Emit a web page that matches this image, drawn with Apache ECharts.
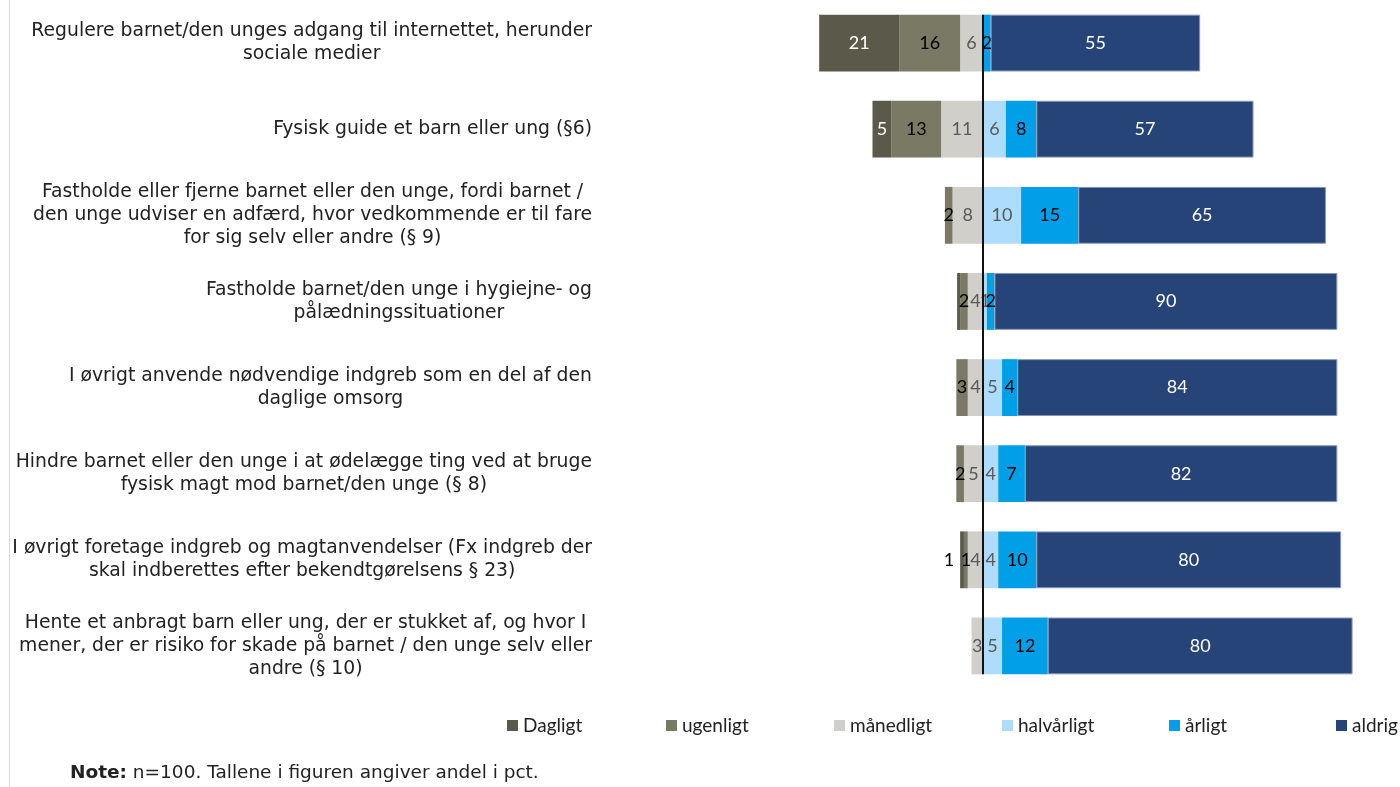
<!DOCTYPE html>
<html>
<head>
<meta charset="utf-8">
<title>Magtanvendelse</title>
<script src="https://cdn.jsdelivr.net/npm/echarts@6.0.0/dist/echarts.min.js"></script>
<style>
  html, body { margin: 0; padding: 0; background: #fff; }
  #chart { width: 1400px; height: 787px; }
</style>
</head>
<body>
<div id="chart"></div>
<script>
  // kategorier (linjeskift som i figuren)
  var categories = [
    'Regulere barnet/den unges adgang til internettet, herunder\nsociale medier',
    'Fysisk guide et barn eller ung (§6)',
    'Fastholde eller fjerne barnet eller den unge, fordi barnet /\nden unge udviser en adfærd, hvor vedkommende er til fare\nfor sig selv eller andre (§ 9)',
    'Fastholde barnet/den unge i hygiejne- og\npålædningssituationer',
    'I øvrigt anvende nødvendige indgreb som en del af den\ndaglige omsorg',
    'Hindre barnet eller den unge i at ødelægge ting ved at bruge\nfysisk magt mod barnet/den unge (§ 8)',
    'I øvrigt foretage indgreb og magtanvendelser (Fx indgreb der\nskal indberettes efter bekendtgørelsens § 23)',
    'Hente et anbragt barn eller ung, der er stukket af, og hvor I\nmener, der er risiko for skade på barnet / den unge selv eller\nandre (§ 10)'
  ]

  // andel i pct.
  var dagligt = [21, 5, 0, 0.8, 0, 0, 1, 0]
  var ugenligt = [16, 13, 2, 2, 3, 2, 1, 0]
  var maanedligt = [6, 11, 8, 4, 4, 5, 4, 3]
  var halvaarligt = [0, 6, 10, 1, 5, 4, 4, 5]
  var aarligt = [2, 8, 15, 2, 4, 7, 10, 12]
  var aldrig = [55, 57, 65, 90, 84, 82, 80, 80]

  var legendNames = ['Dagligt', 'ugenligt', 'månedligt', 'halvårligt', 'årligt', 'aldrig']
  var legendLeft = [502, 661, 829, 997, 1164, 1331]

  var chart = echarts.init(document.getElementById('chart'))

  function labelText(p) {
    var v = Math.abs(p.value)
    if (v < 1) return ''
    return Math.round(v)
  }

  // venstre side (negativ) stables fra midten og ud
  function makeBar(name, values, color, labelColor, negative, border) {
    return {
      name: name,
      type: 'bar',
      stack: 'total',
      barWidth: '66%',
      itemStyle: border ? { color: color, borderColor: border, borderWidth: 1 } : { color: color },
      label: {
        show: true,
        color: labelColor,
        fontFamily: 'Lato',
        fontSize: 18,
        formatter: labelText
      },
      data: values.map(function (v) {
        var item = { value: negative ? -v : v }
        // smal bjælke: label udenfor
        if (name === 'Dagligt' && v >= 1 && v < 2) {
          item.label = { position: 'left', color: '#000', distance: 6 }
        }
        return item
      })
    }
  }

  var series = [
    makeBar('månedligt', maanedligt, '#d0cfc9', '#595959', true),
    makeBar('ugenligt', ugenligt, '#7a7a64', '#000', true),
    makeBar('Dagligt', dagligt, '#5b5a4a', '#fff', true),
    makeBar('halvårligt', halvaarligt, '#addcfc', '#595959', false),
    makeBar('årligt', aarligt, '#009fe8', '#000', false),
    makeBar('aldrig', aldrig, '#264478', '#fff', false, '#8597ba'),
    {
      // nul-linjen fra øverste til nederste bjælke
      type: 'custom',
      silent: true,
      z: 10,
      data: [[0, 0]],
      encode: { x: 0, y: 1 },
      renderItem: function (params, api) {
        var top = api.coord([0, 0])
        var bottom = api.coord([0, categories.length - 1])
        var half = api.size([0, 1])[1] * 0.33
        return {
          type: 'line',
          shape: { x1: top[0], y1: top[1] - half, x2: bottom[0], y2: bottom[1] + half },
          style: { stroke: '#111', lineWidth: 2 }
        }
      }
    }
  ]

  var legends = legendNames.map(function (n, i) {
    return {
      data: [n],
      left: legendLeft[i],
      top: 711,
      icon: 'rect',
      itemWidth: 11,
      itemHeight: 11,
      itemStyle: { borderWidth: 0 },
      selectedMode: false,
      textStyle: { fontFamily: 'Lato', fontSize: 19, color: '#222' }
    }
  })

  chart.setOption({
    animation: false,
    grid: { left: 602, width: 762, top: 0, height: 689, outerBoundsMode: 'none' },
    xAxis: {
      type: 'value',
      min: -100,
      max: 100,
      show: false
    },
    yAxis: {
      type: 'category',
      inverse: true,
      data: categories,
      axisLine: { show: false },
      axisTick: { show: false },
      splitLine: { show: false },
      axisLabel: {
        margin: 10,
        align: 'right',
        color: '#222',
        fontFamily: 'DejaVu Sans',
        fontSize: 18.8,
        lineHeight: 23,
        formatter: function (v) {
          return v.split('\n').map(function (l) { return '{c|' + l + '}' }).join('\n')
        },
        rich: {
          c: { align: 'center', fontFamily: 'DejaVu Sans', fontSize: 18.8, lineHeight: 23, color: '#222' }
        }
      }
    },
    legend: legends,
    title: {
      left: 70,
      top: 764,
      padding: 0,
      text: '{b|Note:} n=100. Tallene i figuren angiver andel i pct.',
      textStyle: {
        fontFamily: 'DejaVu Sans',
        fontSize: 18.5,
        fontWeight: 'normal',
        color: '#222',
        rich: {
          b: { fontFamily: 'DejaVu Sans', fontSize: 18.5, fontWeight: 'bold', color: '#222' }
        }
      }
    },
    graphic: [
      {
        type: 'line',
        shape: { x1: 9.5, y1: 0, x2: 9.5, y2: 787 },
        style: { stroke: '#d9d9d9', lineWidth: 1 }
      }
    ],
    series: series
  })
</script>
</body>
</html>
